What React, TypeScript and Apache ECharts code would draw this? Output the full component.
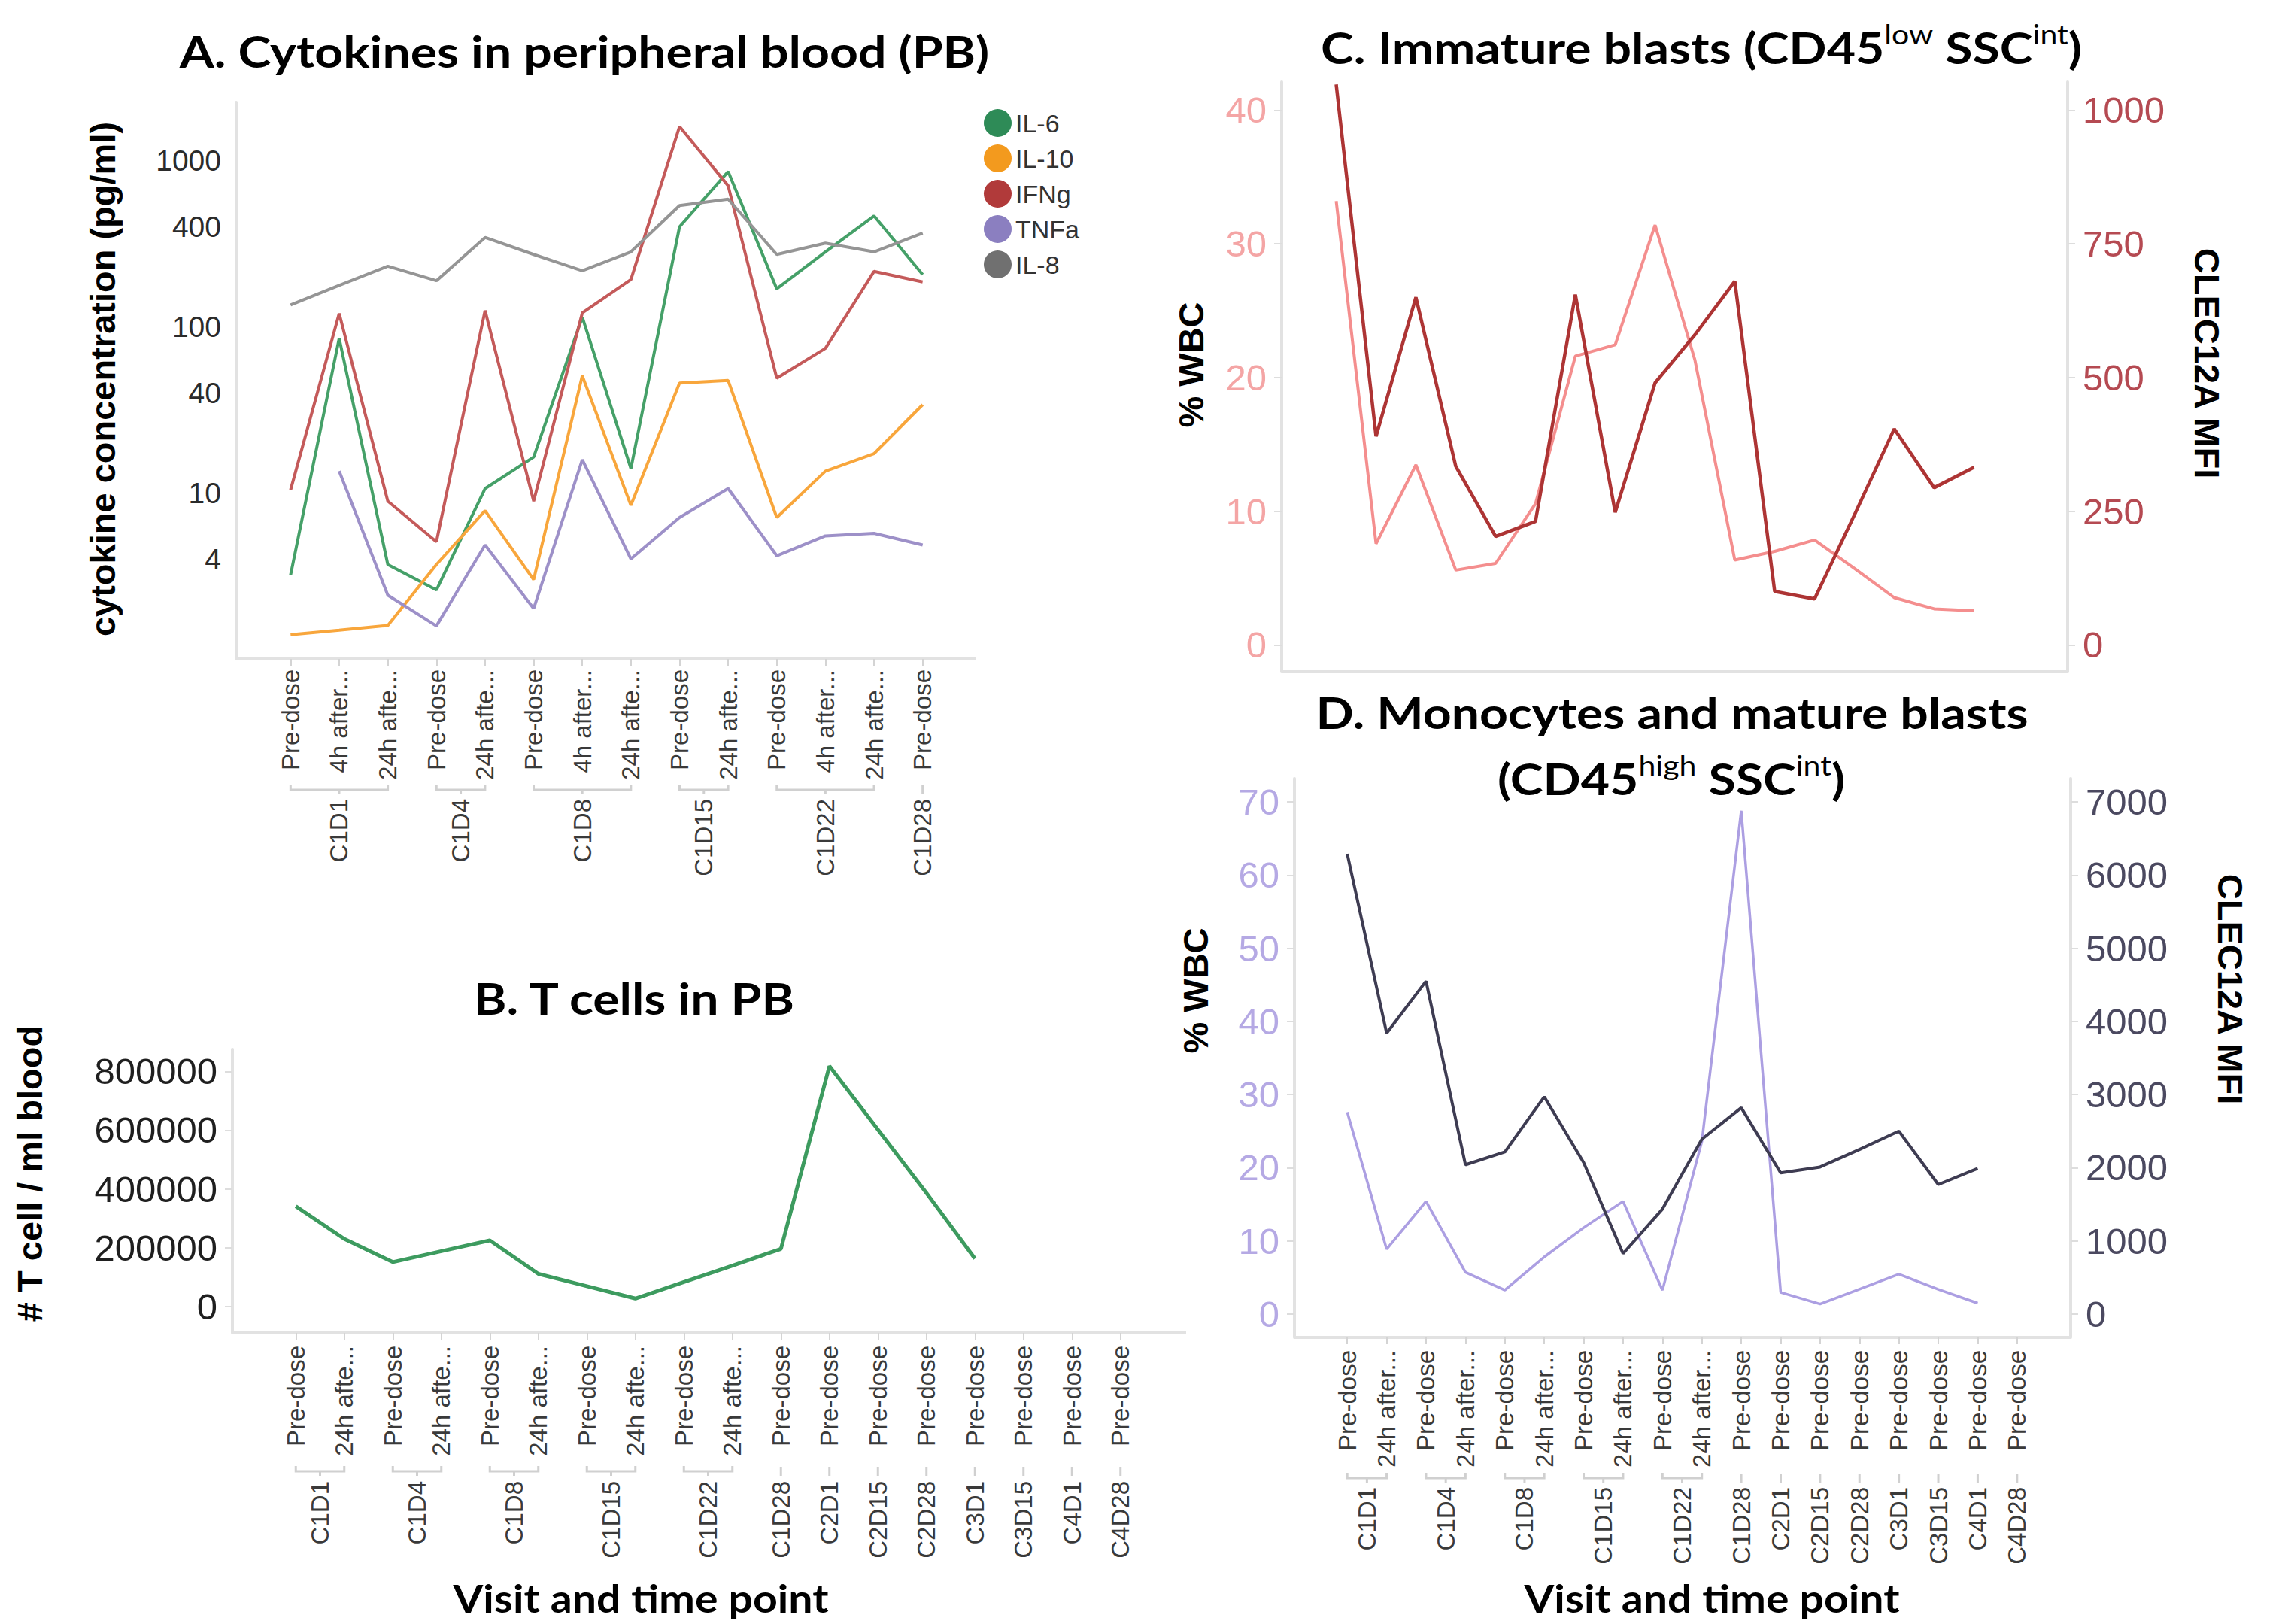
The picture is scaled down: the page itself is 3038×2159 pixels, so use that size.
import React, { useEffect, useRef } from 'react';
import * as echarts from 'echarts';

// ---------- Panel A: cytokines in peripheral blood (log scale) ----------
const cytoTimes = [
  'Pre-dose', '4h after...', '24h afte...',
  'Pre-dose', '24h afte...',
  'Pre-dose', '4h after...', '24h afte...',
  'Pre-dose', '24h afte...',
  'Pre-dose', '4h after...', '24h afte...',
  'Pre-dose',
];
const cytoVisits = [
  'C1D1', 'C1D1', 'C1D1', 'C1D4', 'C1D4', 'C1D8', 'C1D8', 'C1D8',
  'C1D15', 'C1D15', 'C1D22', 'C1D22', 'C1D22', 'C1D28',
];
const il6 = [3.2, 85, 3.7, 2.6, 10.6, 16.4, 114, 14.0, 399, 858, 169, 282, 464, 206];
const il10 = [1.4, 1.49, 1.59, 3.7, 7.8, 3.0, 50.6, 8.4, 45.8, 47.4, 7.1, 13.5, 17.2, 33.9];
const ifng = [10.4, 120, 8.9, 5.07, 125, 8.9, 121, 192, 1600, 705, 49, 74, 215, 186];
const tnfa = [null, 13.5, 2.42, 1.58, 4.85, 2.01, 15.8, 4.0, 7.1, 10.6, 4.18, 5.5, 5.7, 4.85];
const il8 = [135, 177, 231, 189, 344, 272, 217, 282, 536, 585, 272, 318, 282, 366];
const cytoTicks = [4, 10, 40, 100, 400, 1000];

// ---------- Panels B-D: visits up to C4D28 ----------
const tcellTimes = [
  'Pre-dose', '24h afte...', 'Pre-dose', '24h afte...', 'Pre-dose', '24h afte...',
  'Pre-dose', '24h afte...', 'Pre-dose', '24h afte...',
  'Pre-dose', 'Pre-dose', 'Pre-dose', 'Pre-dose', 'Pre-dose', 'Pre-dose', 'Pre-dose', 'Pre-dose',
];
const blastTimes = [
  'Pre-dose', '24h after...', 'Pre-dose', '24h after...', 'Pre-dose', '24h after...',
  'Pre-dose', '24h after...', 'Pre-dose', '24h after...',
  'Pre-dose', 'Pre-dose', 'Pre-dose', 'Pre-dose', 'Pre-dose', 'Pre-dose', 'Pre-dose', 'Pre-dose',
];
const visits = [
  'C1D1', 'C1D1', 'C1D4', 'C1D4', 'C1D8', 'C1D8', 'C1D15', 'C1D15', 'C1D22', 'C1D22',
  'C1D28', 'C2D1', 'C2D15', 'C2D28', 'C3D1', 'C3D15', 'C4D1', 'C4D28',
];
const tCells = [341000, 230000, 151000, 188000, 225000, 111000, 69000, 27000, 83000, 139000,
  196000, 818000, 602000, 386000, 163000, null, null, null];
const tCellTicks = [0, 200000, 400000, 600000, 800000];

const immaturePct = [33.2, 7.57, 13.47, 5.6, 6.1, 10.56, 21.6, 22.45, 31.4, 21.3,
  6.35, 7.0, 7.85, 5.73, 3.54, 2.7, 2.55, null];
const immatureMfi = [1048, 390, 650, 334, 203, 231, 655, 248, 490, 580,
  680, 100, 86, 243, 404, 294, 332, null];
const immaturePctTicks = [0, 10, 20, 30, 40];
const immatureMfiTicks = [0, 250, 500, 750, 1000];

const maturePct = [27.6, 8.86, 15.4, 5.7, 3.26, 7.8, 11.8, 15.4, 3.26, 23.6,
  68.8, 2.95, 1.37, 3.4, 5.44, 3.36, 1.48, null];
const matureMfi = [6290, 3840, 4550, 2040, 2215, 2970, 2070, 827, 1435, 2390,
  2820, 1930, 2010, 2250, 2500, 1770, 1990, null];
const maturePctTicks = [0, 10, 20, 30, 40, 50, 60, 70];
const matureMfiTicks = [0, 1000, 2000, 3000, 4000, 5000, 6000, 7000];

// ---------- styling ----------
const FONT = "'Liberation Sans', Arial, sans-serif";
const TITLE_FONT = "Lato, 'Open Sans', sans-serif";
const AXIS_GREY = '#e2e2e2';
const plain = (v: number) => String(Math.round(v * 1000) / 1000);

// plot frames: data grid plus the padding left on each side of the categories
const panels = {
  A: { grid: { left: 354, top: 136, width: 905, height: 740 }, frameL: 314, frameR: 1297, bracketY: 1050, groupTop: 1062 },
  B: { grid: { left: 361, top: 1395, width: 1161, height: 377 }, frameL: 309, frameR: 1577, bracketY: 1956, groupTop: 1969 },
  C: { grid: { left: 1750, top: 109, width: 954, height: 784 }, frameL: 1704, frameR: 2749, bracketY: 0, groupTop: 0 },
  D: { grid: { left: 1765, top: 1035, width: 943, height: 743 }, frameL: 1721, frameR: 2753, bracketY: 1965, groupTop: 1977 },
};

const catAxis = (gridIndex: number, data: string[], margin: number, showLabels = true) => ({
  type: 'category',
  gridIndex,
  data,
  boundaryGap: true,
  axisLine: { show: false, onZero: false },
  axisTick: {
    show: showLabels,
    alignWithLabel: true,
    length: 9,
    lineStyle: { color: '#d4d4d4', width: 2 },
  },
  axisLabel: {
    show: showLabels,
    interval: 0,
    rotate: 90,
    margin,
    fontSize: 33,
    color: '#3a3a3a',
    fontFamily: FONT,
  },
  splitLine: { show: false },
});

const valAxis = (
  gridIndex: number,
  position: string,
  min: number,
  max: number,
  ticks: number[],
  offset: number,
  color: string,
  fontSize = 49,
) => ({
  type: 'value',
  gridIndex,
  position,
  min,
  max,
  offset,
  axisLine: { show: true, onZero: false, lineStyle: { color: AXIS_GREY, width: 4 } },
  axisTick: { show: true, customValues: ticks, length: 10, lineStyle: { color: '#dddddd', width: 2 } },
  axisLabel: { customValues: ticks, formatter: plain, color, fontSize, fontFamily: FONT, margin: 20 },
  splitLine: { show: false },
});

const line = (
  name: string,
  data: (number | null)[],
  xAxisIndex: number,
  yAxisIndex: number,
  color: string,
  lineColor: string,
  width: number,
) => ({
  name,
  type: 'line',
  data,
  xAxisIndex,
  yAxisIndex,
  symbol: 'none',
  color,
  itemStyle: { color },
  lineStyle: { color: lineColor, width },
  connectNulls: false,
  silent: true,
});

function buildOption() {
  return {
    animation: false,
    backgroundColor: '#ffffff',
    textStyle: { fontFamily: FONT },
    grid: [
      { ...panels.A.grid, outerBoundsMode: 'none' },
      { ...panels.B.grid, outerBoundsMode: 'none' },
      { ...panels.C.grid, outerBoundsMode: 'none' },
      { ...panels.D.grid, outerBoundsMode: 'none' },
    ],
    xAxis: [
      catAxis(0, cytoTimes, 14),
      catAxis(1, tcellTimes, 17),
      catAxis(2, blastTimes, 17, false),
      catAxis(3, blastTimes, 17),
    ],
    yAxis: [
      {
        type: 'log',
        logBase: 10,
        gridIndex: 0,
        position: 'left',
        min: 1,
        max: 2240,
        offset: panels.A.grid.left - panels.A.frameL,
        axisLine: { show: true, onZero: false, lineStyle: { color: AXIS_GREY, width: 4 } },
        axisTick: { show: false },
        axisLabel: {
          customValues: cytoTicks,
          formatter: plain,
          color: '#2b2b2b',
          fontSize: 39,
          fontFamily: FONT,
          margin: 20,
        },
        splitLine: { show: false },
        minorSplitLine: { show: false },
      },
      valAxis(1, 'left', -90000, 875000, tCellTicks, panels.B.grid.left - panels.B.frameL, '#1f1f1f'),
      valAxis(2, 'left', -2, 42.1, immaturePctTicks, panels.C.grid.left - panels.C.frameL, '#f4a5a5'),
      valAxis(2, 'right', -50, 1052.5, immatureMfiTicks,
        panels.C.frameR - (panels.C.grid.left + panels.C.grid.width), '#b54a52'),
      valAxis(3, 'left', -3.2, 73.2, maturePctTicks, panels.D.grid.left - panels.D.frameL, '#b5a9e4'),
      valAxis(3, 'right', -320, 7320, matureMfiTicks,
        panels.D.frameR - (panels.D.grid.left + panels.D.grid.width), '#4b4960'),
    ],
    legend: {
      data: ['IL-6', 'IL-10', 'IFNg', 'TNFa', 'IL-8'],
      orient: 'vertical',
      left: 1308,
      top: 145,
      icon: 'circle',
      itemWidth: 37,
      itemHeight: 37,
      itemGap: 10,
      padding: 0,
      textStyle: { fontSize: 34, color: '#333333', fontFamily: FONT },
    },
    series: [
      line('IL-6', il6, 0, 0, '#2e8b57', '#45a068', 4),
      line('IL-10', il10, 0, 0, '#f39a1e', '#f8a63c', 4),
      line('IFNg', ifng, 0, 0, '#b13a3a', '#c45a5a', 4),
      line('TNFa', tnfa, 0, 0, '#8b7fc0', '#9d90c8', 4),
      line('IL-8', il8, 0, 0, '#707070', '#959595', 4),
      line('T cells', tCells, 1, 1, '#3d9b5f', '#3d9b5f', 5),
      line('Immature %WBC', immaturePct, 2, 2, '#f48e8e', '#f48e8e', 4),
      line('Immature MFI', immatureMfi, 2, 3, '#ad3434', '#ad3434', 4.5),
      line('Mature %WBC', maturePct, 3, 4, '#ac9fe2', '#ac9fe2', 3.5),
      line('Mature MFI', matureMfi, 3, 5, '#3e3c52', '#3e3c52', 4),
    ],
  };
}

// consecutive runs of the same visit
function visitGroups(list: string[]) {
  const out: { name: string; from: number; to: number }[] = [];
  list.forEach((v, i) => {
    const last = out[out.length - 1];
    if (last && last.name === v) last.to = i;
    else out.push({ name: v, from: i, to: i });
  });
  return out;
}

const BRACKET = '#d0d0d0';

function visitAxisGraphics(chart: any, xAxisIndex: number, list: string[], bracketY: number, groupTop: number) {
  const els: any[] = [];
  const px = (i: number) => chart.convertToPixel({ xAxisIndex }, i) as number;
  visitGroups(list).forEach((g) => {
    const x0 = px(g.from);
    const x1 = px(g.to);
    const cx = (x0 + x1) / 2;
    if (g.to > g.from) {
      els.push({
        type: 'polyline',
        silent: true,
        shape: { points: [[x0, bracketY - 7], [x0, bracketY], [x1, bracketY], [x1, bracketY - 7]] },
        style: { stroke: BRACKET, lineWidth: 3, fill: null },
      });
      els.push({
        type: 'line',
        silent: true,
        shape: { x1: cx, y1: bracketY, x2: cx, y2: bracketY + 6 },
        style: { stroke: BRACKET, lineWidth: 3 },
      });
    } else {
      els.push({
        type: 'line',
        silent: true,
        shape: { x1: cx, y1: bracketY - 6, x2: cx, y2: bracketY + 6 },
        style: { stroke: BRACKET, lineWidth: 3 },
      });
    }
    els.push({
      type: 'text',
      silent: true,
      x: cx,
      y: groupTop,
      rotation: Math.PI / 2,
      style: {
        text: g.name,
        fill: '#3a3a3a',
        fontSize: 33,
        fontFamily: FONT,
        align: 'right',
        verticalAlign: 'middle',
      },
    });
  });
  return els;
}

const frameLine = (p: { frameL: number; frameR: number; grid: { top: number; height: number } }) => ({
  type: 'line',
  silent: true,
  shape: { x1: p.frameL, y1: p.grid.top + p.grid.height, x2: p.frameR, y2: p.grid.top + p.grid.height },
  style: { stroke: AXIS_GREY, lineWidth: 4 },
});

const TITLE_STRETCH = 1.14;

const title = (x: number, y: number, text: string, size = 58, stretch = TITLE_STRETCH) => ({
  type: 'text',
  silent: true,
  x,
  y,
  scaleX: stretch,
  style: {
    text,
    fill: '#000000',
    fontSize: size,
    fontWeight: 'bold',
    fontFamily: TITLE_FONT,
    align: 'center',
    verticalAlign: 'middle',
  },
});

const supTitle = (x: number, y: number, text: string) => ({
  type: 'text',
  silent: true,
  x,
  y,
  scaleX: TITLE_STRETCH,
  style: {
    text,
    align: 'center',
    verticalAlign: 'middle',
    rich: {
      m: { fontSize: 58, fontWeight: 'bold', fontFamily: TITLE_FONT, fill: '#000000', lineHeight: 72 },
      s: { fontSize: 36, fontWeight: 'normal', fontFamily: TITLE_FONT, fill: '#000000', verticalAlign: 'top' },
    },
  },
});

const axisTitle = (x: number, y: number, text: string, rotation: number) => ({
  type: 'text',
  silent: true,
  x,
  y,
  rotation,
  style: {
    text,
    fill: '#000000',
    fontSize: 47,
    fontWeight: 'bold',
    fontFamily: FONT,
    align: 'center',
    verticalAlign: 'middle',
  },
});

function buildGraphics(chart: any) {
  return [
    frameLine(panels.A),
    frameLine(panels.B),
    frameLine(panels.C),
    frameLine(panels.D),
    ...visitAxisGraphics(chart, 0, cytoVisits, panels.A.bracketY, panels.A.groupTop),
    ...visitAxisGraphics(chart, 1, visits, panels.B.bracketY, panels.B.groupTop),
    ...visitAxisGraphics(chart, 3, visits, panels.D.bracketY, panels.D.groupTop),
    title(777, 68, 'A. Cytokines in peripheral blood (PB)'),
    title(843, 1327, 'B. T cells in PB'),
    supTitle(2262, 63, '{m|C. Immature blasts (CD45}{s|low}{m| SSC}{s|int}{m|)}'),
    title(2223, 947, 'D. Monocytes and mature blasts'),
    supTitle(2222, 1035, '{m|(CD45}{s|high}{m| SSC}{s|int}{m|)}'),
    title(852, 2124, 'Visit and time point', 52, 1.1),
    title(2276, 2124, 'Visit and time point', 52, 1.1),
    axisTitle(136, 504, 'cytokine concentration (pg/ml)', Math.PI / 2),
    axisTitle(39, 1560, '# T cell / ml blood', Math.PI / 2),
    axisTitle(1583, 485, '% WBC', Math.PI / 2),
    axisTitle(2934, 483, 'CLEC12A MFI', -Math.PI / 2),
    axisTitle(1589, 1317, '% WBC', Math.PI / 2),
    axisTitle(2965, 1315, 'CLEC12A MFI', -Math.PI / 2),
  ];
}

export default function App() {
  const ref = useRef<HTMLDivElement>(null);
  useEffect(() => {
    if (!ref.current) return;
    const chart = echarts.init(ref.current, null, { renderer: 'svg' });
    chart.setOption(buildOption() as any);
    chart.setOption({ graphic: { elements: buildGraphics(chart) } } as any);
    return () => chart.dispose();
  }, []);
  return (
    <div
      ref={ref}
      style={{ position: 'absolute', left: 0, top: 0, width: 3038, height: 2159, background: '#ffffff' }}
    />
  );
}
